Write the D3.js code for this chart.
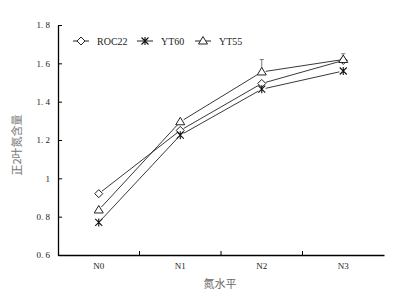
<!DOCTYPE html>
<html>
<head>
  <script src="https://d3js.org/d3.v7.min.js"></script>
  <style>
    body { margin: 0; background: #fff; }
    svg { font-family: 'Liberation Serif', 'DejaVu Serif', serif; }
  </style>
</head>
<body>
  <div id="chart"></div>
  <script>
    const levels = ["N0", "N1", "N2", "N3"];
    const roc22 = [0.92, 1.25, 1.495, 1.615];
    const yt60 = [0.77, 1.225, 1.465, 1.56];
    const yt55 = [0.835, 1.295, 1.555, 1.62];
    // upward error bars that are visible in the figure
    const roc22Err = [0, 0, 0, 0.035];
    const yt55Err = [0, 0, 0.065, 0];
    const yTicks = [0.6, 0.8, 1, 1.2, 1.4, 1.6, 1.8];

    const series = [
      { name: "ROC22", values: roc22, err: roc22Err, symbol: "diamond" },
      { name: "YT60", values: yt60, err: null, symbol: "star" },
      { name: "YT55", values: yt55, err: yt55Err, symbol: "triangle" }
    ];

    const width = 403, height = 303;
    const margin = { top: 25, right: 19, bottom: 48, left: 58 };

    const svg = d3.select("#chart").append("svg")
      .attr("width", width)
      .attr("height", height);

    const x = d3.scaleBand()
      .domain(levels)
      .range([margin.left, width - margin.right]);

    const y = d3.scaleLinear()
      .domain([0.6, 1.8])
      .range([height - margin.bottom, margin.top]);

    // axes
    const yAxis = d3.axisLeft(y)
      .tickValues(yTicks)
      .tickSizeInner(-4)
      .tickSizeOuter(0)
      .tickPadding(8)
      .tickFormat(d => d === 1 ? "1" : d3.format(".1f")(d).replace(".", ". "));
    const gy = svg.append("g")
      .attr("transform", `translate(${margin.left},0)`)
      .call(yAxis);

    const xAxis = d3.axisBottom(x)
      .tickSize(0)
      .tickPadding(8);
    const gx = svg.append("g")
      .attr("transform", `translate(0,${height - margin.bottom})`)
      .call(xAxis);

    // ticks between categories, pointing up
    const bounds = levels.slice(1).map(d => x(d));
    svg.selectAll(".xtick")
      .data(bounds)
      .enter().append("line")
      .attr("x1", d => d).attr("x2", d => d)
      .attr("y1", height - margin.bottom)
      .attr("y2", height - margin.bottom - 4)
      .attr("stroke", "#000");

    [gx, gy].forEach(g => {
      g.select(".domain").attr("stroke", "#000").attr("stroke-width", 1.3);
      g.selectAll("text").attr("fill", "#222").style("font-size", "9px")
        .style("font-family", "'Liberation Serif', 'DejaVu Serif', serif");
    });

    // axis titles
    svg.append("text")
      .attr("x", 220)
      .attr("y", 288)
      .attr("text-anchor", "middle")
      .style("font-family", "'Noto Sans CJK SC', sans-serif")
      .style("font-size", "11px")
      .attr("fill", "#666")
      .text("氮水平");

    svg.append("text")
      .attr("transform", "translate(21,145) rotate(-90)")
      .attr("text-anchor", "middle")
      .style("font-family", "'Noto Sans CJK SC', sans-serif")
      .style("font-size", "11px")
      .attr("fill", "#777")
      .text("正2叶氮含量");

    const cx = d => x(d) + x.bandwidth() / 2;
    const gap = 4;

    // line segments, shortened near the markers
    series.forEach(s => {
      const pts = s.values.map((v, i) => [cx(levels[i]), y(v)]);
      for (let i = 0; i < pts.length - 1; i++) {
        const [x1, y1] = pts[i], [x2, y2] = pts[i + 1];
        const len = Math.hypot(x2 - x1, y2 - y1);
        const ux = (x2 - x1) / len, uy = (y2 - y1) / len;
        svg.append("line")
          .attr("x1", x1 + ux * gap).attr("y1", y1 + uy * gap)
          .attr("x2", x2 - ux * gap).attr("y2", y2 - uy * gap)
          .attr("stroke", "#222")
          .attr("stroke-width", 0.9);
      }
      if (s.err) {
        s.err.forEach((e, i) => {
          if (!e) return;
          const px = cx(levels[i]);
          svg.append("line")
            .attr("x1", px).attr("x2", px)
            .attr("y1", y(s.values[i]) - 3)
            .attr("y2", y(s.values[i] + e))
            .attr("stroke", "#777");
          svg.append("line")
            .attr("x1", px - 2).attr("x2", px + 2)
            .attr("y1", y(s.values[i] + e)).attr("y2", y(s.values[i] + e))
            .attr("stroke", "#777");
        });
      }
    });

    function drawSymbol(g, type, px, py) {
      if (type === "diamond") {
        g.append("path")
          .attr("d", `M${px},${py - 4}L${px + 4},${py}L${px},${py + 4}L${px - 4},${py}Z`)
          .attr("fill", "#fff").attr("stroke", "#222");
      } else if (type === "triangle") {
        g.append("path")
          .attr("d", `M${px},${py - 4.5}L${px + 4.5},${py + 3}L${px - 4.5},${py + 3}Z`)
          .attr("fill", "#fff").attr("stroke", "#222");
      } else {
        g.append("path")
          .attr("d", `M${px - 3.5},${py - 3.5}L${px + 3.5},${py + 3.5}M${px + 3.5},${py - 3.5}L${px - 3.5},${py + 3.5}M${px},${py - 4}V${py + 4}`)
          .attr("fill", "none").attr("stroke", "#111").attr("stroke-width", 1.1);
      }
    }

    const marks = svg.append("g");
    series.forEach(s => {
      s.values.forEach((v, i) => drawSymbol(marks, s.symbol, cx(levels[i]), y(v)));
    });

    // legend
    const legendX = [73, 137, 195];
    const legend = svg.append("g");
    series.forEach((s, i) => {
      const lx = legendX[i], ly = 41;
      legend.append("line")
        .attr("x1", lx).attr("x2", lx + 16)
        .attr("y1", ly).attr("y2", ly)
        .attr("stroke", "#222");
      drawSymbol(legend, s.symbol, lx + 8, ly);
      legend.append("text")
        .attr("x", lx + 24)
        .attr("y", ly + 3.5)
        .style("font-size", "10px")
        .attr("fill", "#222")
        .text(s.name);
    });
  </script>
</body>
</html>
